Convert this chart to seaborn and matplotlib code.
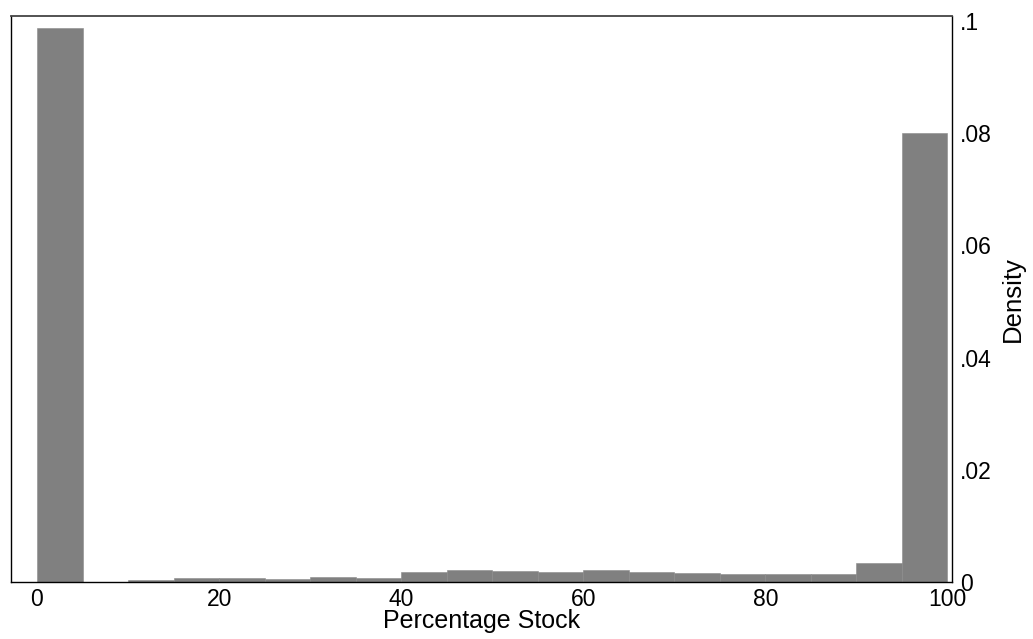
#!/usr/bin/env python3
"""
Histogram of the percentage of the portfolio held in stock (Stata-style look).
"""
import numpy as np
import matplotlib
matplotlib.use('Agg')
import matplotlib.pyplot as plt
import seaborn as sns

# Bin edges (width 5) and the density
bin_edges = list(range(0, 105, 5))
bin_centers = [2.5, 7.5, 12.5, 17.5, 22.5, 27.5, 32.5, 37.5, 42.5, 47.5,
               52.5, 57.5, 62.5, 67.5, 72.5, 77.5, 82.5, 87.5, 92.5, 97.5]
density = [0.0987, 0.0, 0.00036, 0.0007, 0.0007, 0.00047, 0.00095, 0.00077,
           0.0018, 0.0021, 0.0020, 0.0018, 0.0022, 0.0018, 0.0016, 0.0015,
           0.0015, 0.0015, 0.0033, 0.0800]

x_ticks = [0, 20, 40, 60, 80, 100]
y_ticks = [0, 0.02, 0.04, 0.06, 0.08, 0.1]
y_tick_labels = ['0', '.02', '.04', '.06', '.08', '.1']


def main():
    sns.set_style('white')
    plt.rcParams['font.family'] = ['Liberation Sans', 'DejaVu Sans']
    plt.rcParams['text.color'] = 'black'
    plt.rcParams['axes.labelcolor'] = 'black'
    plt.rcParams['xtick.color'] = 'black'
    plt.rcParams['ytick.color'] = 'black'

    fig = plt.figure(figsize=(10.33, 6.39), dpi=100)
    ax = fig.add_axes([0.0106, 0.0892, 0.911, 0.886])

    sns.histplot(x=bin_centers, weights=density, bins=bin_edges, stat='count',
                 color='#808080', alpha=1, edgecolor='#8a8a8a', linewidth=0.4,
                 ax=ax)

    ax.set_xlim(-2.86, 100.5)
    ax.set_ylim(0, 0.1009)

    ax.set_xticks(x_ticks)
    ax.set_xticklabels([str(t) for t in x_ticks])
    ax.set_yticks(y_ticks)
    ax.set_yticklabels(y_tick_labels)

    ax.yaxis.tick_right()
    ax.yaxis.set_label_position('right')
    ax.tick_params(axis='x', direction='in', length=6, width=1, labelsize=16.5,
                   pad=4, colors='black')
    ax.tick_params(axis='y', direction='in', length=0, width=1, labelsize=16.5,
                   pad=6, colors='black')

    ax.set_xlabel('Percentage Stock', fontsize=18, labelpad=-1, color='black')
    ax.set_ylabel('Density', fontsize=18.5, labelpad=6, color='black')

    for spine in ax.spines.values():
        spine.set_visible(True)
        spine.set_color('black')
        spine.set_linewidth(1)
    ax.spines['top'].set_color('#444444')
    ax.spines['top'].set_linewidth(1.3)
    ax.grid(False)

    fig.savefig('out.png', dpi=100)
    plt.close(fig)


if __name__ == "__main__":
    main()
